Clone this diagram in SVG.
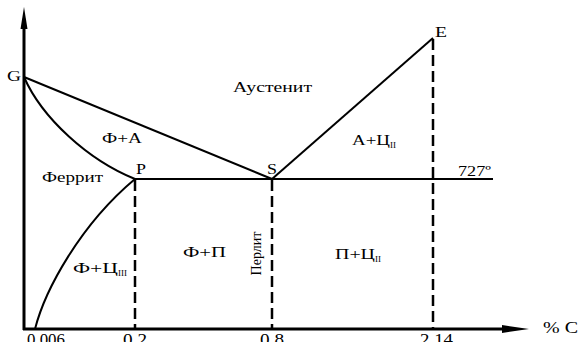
<svg xmlns="http://www.w3.org/2000/svg" width="580" height="342" viewBox="0 0 580 342">
<defs>
<style>
.ax{stroke:#000;stroke-width:3;fill:none}
.ln{stroke:#000;stroke-width:2;fill:none}
.ds{stroke:#000;stroke-width:2.5;fill:none;stroke-dasharray:11 5}
.t{font-family:"Liberation Serif","Times New Roman",serif;font-size:14px;fill:#000}
.s{font-size:9px}
.n{font-size:16px}
</style>
</defs>
<rect width="580" height="342" fill="#fff"/>
<g id="connectors">
<line class="ax" x1="24" y1="330" x2="24" y2="26"/>
<polygon points="24,7 20.5,29 27.5,29" fill="#000"/>
<line class="ax" x1="23" y1="329" x2="505" y2="329"/>
<polygon points="529,329 502,325 502,333" fill="#000"/>
<path class="ln" d="M24,77 C42,118 88,160 135,179"/>
<path class="ln" d="M35,329 C45,290 80,225 135,179"/>
<line class="ln" x1="24" y1="77" x2="272" y2="179"/>
<line class="ln" x1="272" y1="179" x2="433" y2="38"/>
<line class="ln" x1="135" y1="179" x2="493" y2="179"/>
<line class="ds" x1="135" y1="180" x2="135" y2="329"/>
<line class="ds" x1="272" y1="180" x2="272" y2="329"/>
<line class="ds" x1="433" y1="39" x2="433" y2="329"/>
</g>
<g id="node-G"><text class="t" x="7" y="81" textLength="14" lengthAdjust="spacingAndGlyphs">G</text></g>
<g id="node-P"><text class="t" x="136" y="174" textLength="10" lengthAdjust="spacingAndGlyphs">P</text></g>
<g id="node-S"><text class="t" x="267" y="174" textLength="10" lengthAdjust="spacingAndGlyphs">S</text></g>
<g id="node-E"><text class="t" x="435" y="37" textLength="12" lengthAdjust="spacingAndGlyphs">E</text></g>
<g id="region-austenite"><text class="t" x="233" y="92" textLength="79" lengthAdjust="spacingAndGlyphs">Аустенит</text></g>
<g id="region-fa"><text class="t" x="102" y="143" textLength="40" lengthAdjust="spacingAndGlyphs">Ф+А</text></g>
<g id="region-ferrite"><text class="t" x="42" y="182" textLength="61" lengthAdjust="spacingAndGlyphs">Феррит</text></g>
<g id="region-ac"><text class="t" x="352" y="145"><tspan textLength="38" lengthAdjust="spacingAndGlyphs">А+Ц</tspan><tspan class="s" dy="3">II</tspan></text></g>
<g id="region-fc"><text class="t" x="73" y="273"><tspan textLength="45" lengthAdjust="spacingAndGlyphs">Ф+Ц</tspan><tspan class="s" dy="3">III</tspan></text></g>
<g id="region-fp"><text class="t" x="183" y="257" textLength="43" lengthAdjust="spacingAndGlyphs">Ф+П</text></g>
<g id="region-pearlite"><text class="t" transform="translate(261,253.5) rotate(-90)" text-anchor="middle">Перлит</text></g>
<g id="region-pc"><text class="t" x="335" y="259"><tspan textLength="40" lengthAdjust="spacingAndGlyphs">П+Ц</tspan><tspan class="s" dy="3">II</tspan></text></g>
<g id="label-727"><text class="t" x="458" y="176" textLength="33" lengthAdjust="spacingAndGlyphs">727º</text></g>
<g id="axis-labels">
<text class="t n" x="543" y="333" textLength="35" lengthAdjust="spacingAndGlyphs">% C</text>
<text class="t n" x="27" y="345" textLength="38" lengthAdjust="spacingAndGlyphs">0.006</text>
<text class="t n" x="123" y="345" textLength="24" lengthAdjust="spacingAndGlyphs">0.2</text>
<text class="t n" x="260" y="345" textLength="24" lengthAdjust="spacingAndGlyphs">0.8</text>
<text class="t n" x="420" y="345" textLength="33" lengthAdjust="spacingAndGlyphs">2.14</text>
</g>
</svg>
